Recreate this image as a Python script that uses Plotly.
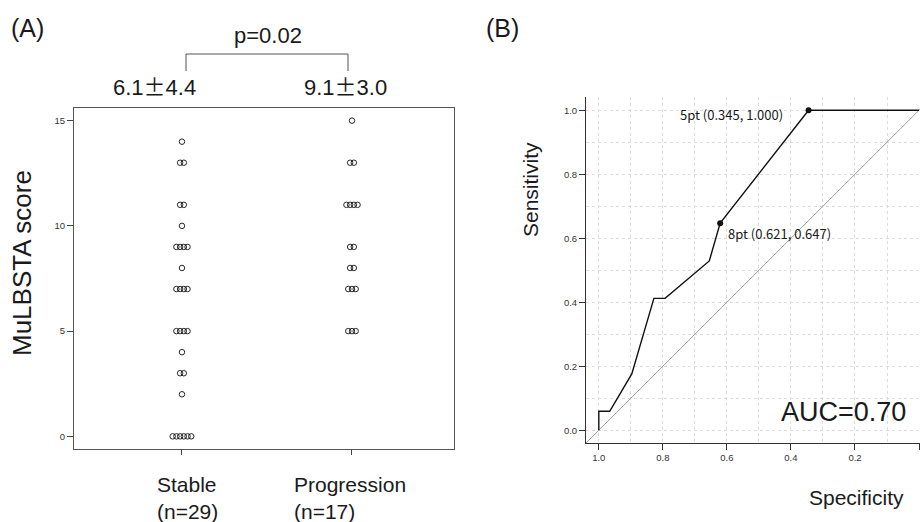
import plotly.graph_objects as go
from collections import Counter

# ---------------- data ----------------
groups = ["Stable", "Progression"]
group_n = [29, 17]
group_summary = ["6.1±4.4", "9.1±3.0"]
p_value = "p=0.02"

stable_scores = [14, 13, 13, 11, 11, 10, 9, 9, 9, 9, 8, 7, 7, 7, 7,
                 5, 5, 5, 5, 4, 3, 3, 2, 0, 0, 0, 0, 0, 0]
progression_scores = [15, 13, 13, 11, 11, 11, 11, 9, 9, 8, 8, 7, 7, 7, 5, 5, 5]

score_ticks = [0, 5, 10, 15]

roc_specificity = [1.0, 1.0, 0.966, 0.897, 0.828, 0.793, 0.655, 0.621, 0.345, 0.0]
roc_sensitivity = [0.0, 0.059, 0.059, 0.176, 0.412, 0.412, 0.529, 0.647, 1.0, 1.0]

cut_points = [5, 8]
cut_specificity = [0.345, 0.621]
cut_sensitivity = [1.000, 0.647]
auc_text = "AUC=0.70"

roc_ticks = [0.0, 0.2, 0.4, 0.6, 0.8, 1.0]
roc_minor = [0.1, 0.3, 0.5, 0.7, 0.9]

W, H = 920, 522
def px(x):
    return x / W
def py(y):
    return 1 - y / H

FONT = "Liberation Sans, Arial, sans-serif"
JFONT = "Noto Sans CJK JP, Liberation Sans, sans-serif"

fig = go.Figure()

# ---------------- panel A: stacked strip chart ----------------
step = 0.0218
for gi, scores in enumerate([stable_scores, progression_scores]):
    cnt = Counter(scores)
    xs, ys = [], []
    for val, k in cnt.items():
        for i in range(k):
            xs.append(gi + 1 + (i - (k - 1) / 2) * step)
            ys.append(val)
    fig.add_trace(go.Scatter(
        x=xs, y=ys, mode="markers", xaxis="x", yaxis="y",
        marker=dict(symbol="circle-open", size=5.5, color="#111",
                    line=dict(width=0.9, color="#111")),
        showlegend=False, hoverinfo="skip"))

# ---------------- panel B: ROC ----------------
fig.add_trace(go.Scatter(
    x=[1.04, -0.04], y=[-0.04, 1.04], mode="lines", xaxis="x2", yaxis="y2",
    line=dict(color="#a0a0a0", width=1), showlegend=False, hoverinfo="skip"))
fig.add_trace(go.Scatter(
    x=roc_specificity, y=roc_sensitivity, mode="lines", xaxis="x2", yaxis="y2",
    line=dict(color="#111", width=1.4), showlegend=False, hoverinfo="skip"))
fig.add_trace(go.Scatter(
    x=cut_specificity, y=cut_sensitivity, mode="markers", xaxis="x2", yaxis="y2",
    marker=dict(color="#111", size=6), showlegend=False, hoverinfo="skip",
    cliponaxis=False))

grid_col = "#dcdcdc"
fig.update_layout(
    width=W, height=H,
    margin=dict(l=0, r=0, t=0, b=0),
    paper_bgcolor="white", plot_bgcolor="white",
    font=dict(family=FONT, color="#222"),
    xaxis=dict(domain=[px(74), px(454)], range=[0.365, 2.6],
               tickvals=[1, 2], ticktext=["", ""], ticks="outside", ticklen=5,
               tickcolor="#444", showline=True, mirror=True, linecolor="#555",
               linewidth=1, showgrid=False, zeroline=False, anchor="y"),
    yaxis=dict(domain=[py(449), py(108)], range=[-0.6, 15.6],
               tickvals=score_ticks, ticks="outside", ticklen=6, tickcolor="#444",
               tickfont=dict(size=9.5, color="#333"),
               showline=True, mirror=True, linecolor="#555", linewidth=1,
               showgrid=False, zeroline=False, anchor="x"),
    xaxis2=dict(domain=[px(586), 1.0], range=[1.04, -0.003],
                tickvals=roc_ticks, ticktext=[f"{v:.1f}" for v in roc_ticks],
                ticks="outside", ticklen=6, tickcolor="#333",
                tickfont=dict(size=9.5, color="#333"),
                showline=True, linecolor="#333", linewidth=1,
                showgrid=True, gridcolor=grid_col, griddash="dot", gridwidth=1,
                minor=dict(tickvals=roc_minor, showgrid=True, gridcolor=grid_col,
                           griddash="dot", ticks=""),
                zeroline=False, anchor="y2"),
    yaxis2=dict(domain=[py(443), py(97.4)], range=[-0.04, 1.04],
                tickvals=roc_ticks, ticktext=[f"{v:.1f}" for v in roc_ticks],
                ticks="outside", ticklen=6, tickcolor="#333",
                tickfont=dict(size=9.5, color="#333"),
                showline=True, linecolor="#333", linewidth=1,
                showgrid=True, gridcolor=grid_col, griddash="dot", gridwidth=1,
                minor=dict(tickvals=roc_minor, showgrid=True, gridcolor=grid_col,
                           griddash="dot", ticks=""),
                zeroline=False, anchor="x2"),
)

ann = []
def A(text, x, y, size, xanchor="center", yanchor="middle", align="center",
      family=FONT, textangle=0, **kw):
    ann.append(dict(text=text, x=x, y=y, xref="paper", yref="paper",
                    showarrow=False, xanchor=xanchor, yanchor=yanchor, align=align,
                    textangle=textangle,
                    font=dict(size=size, family=family, color="#1a1a1a"), **kw))

# panel labels
A("(A)", px(9), py(28), 25, xanchor="left")
A("(B)", px(484), py(28), 25, xanchor="left")

# panel A texts
A(p_value, px(268), py(35), 22)
pm = '<span style="font-family:Noto Sans CJK JP">±</span>'
A(group_summary[0].replace("±", pm), px(154), py(85), 22)
A(group_summary[1].replace("±", pm), px(345), py(85), 22)
A("MuLBSTA score", px(22), py(263), 26, textangle=-90)
A(f"{groups[0]}<br>(n={group_n[0]})", px(155), py(498), 21, xanchor="left", align="left")
A(f"{groups[1]}<br>(n={group_n[1]})", px(292), py(498), 21, xanchor="left", align="left")

# panel B texts
A("Sensitivity", px(531), py(190), 21, textangle=-90)
A("Specificity", px(856), py(497), 21)
A(auc_text, px(843), py(412), 27)

for cp, s, se, (anc, xs, ys) in zip(cut_points, cut_specificity, cut_sensitivity,
                                     [("right", -24, -4), ("left", 6, -10)]):
    ann.append(dict(text=f"{cp}pt ({s:.3f}, {se:.3f})", x=s, y=se, xref="x2", yref="y2",
                    showarrow=False, xanchor=anc, yanchor="middle", xshift=xs, yshift=ys,
                    font=dict(size=13, family=JFONT, color="#1a1a1a")))

fig.update_layout(annotations=ann)

# bracket for p-value
fig.add_shape(type="path", xref="paper", yref="paper",
              path=f"M {px(186)},{py(71)} L {px(186)},{py(54)} L {px(348)},{py(54)} L {px(348)},{py(71)}",
              line=dict(color="#555", width=1))

fig.write_html("out.html", config={"displayModeBar": False},
               post_script=("document.body.style.margin='0px';"
                            "document.body.style.overflow='hidden';"))
